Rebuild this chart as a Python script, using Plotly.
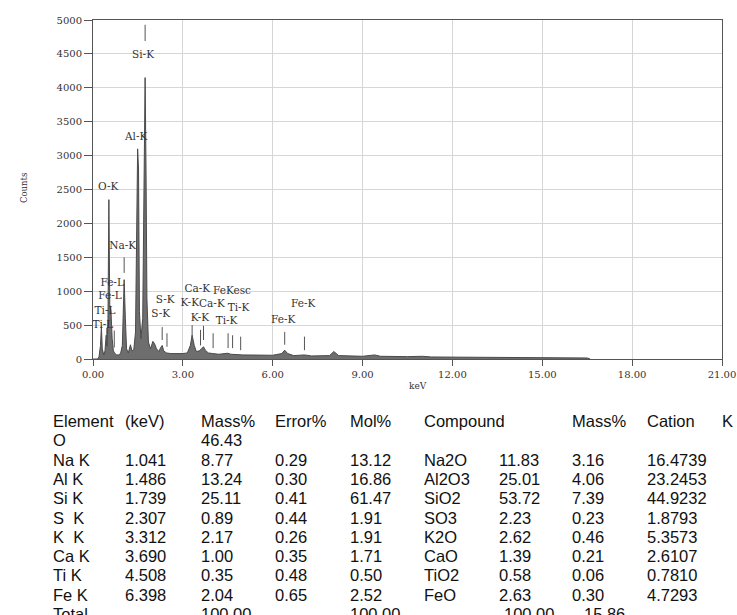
import plotly.graph_objects as go

# ---------------- spectrum data ----------------
energy_kev = [0.00, 0.15, 0.20, 0.25, 0.28, 0.31, 0.36, 0.40, 0.44, 0.47, 0.50, 0.53, 0.56,
              0.60, 0.64, 0.68, 0.72, 0.78, 0.85, 0.92, 0.98, 1.04, 1.08, 1.12, 1.18, 1.25,
              1.30, 1.36, 1.42, 1.46, 1.49, 1.52, 1.55, 1.60, 1.66, 1.70, 1.74, 1.77, 1.80,
              1.85, 1.92, 2.00, 2.06, 2.12, 2.20, 2.26, 2.31, 2.36, 2.45, 2.60, 2.80, 3.00,
              3.15, 3.25, 3.31, 3.38, 3.45, 3.55, 3.64, 3.69, 3.75, 3.85, 4.00, 4.20, 4.50,
              4.60, 5.00, 5.50, 6.00, 6.30, 6.40, 6.50, 6.70, 7.06, 7.30, 7.90, 8.04, 8.20,
              9.00, 9.40, 9.60, 10.50, 11.00, 11.30, 12.00, 13.00, 14.00, 15.00, 16.00,
              16.50, 16.60]
counts = [0, 0, 30, 200, 480, 150, 60, 120, 350, 200, 600, 2350, 800,
          700, 300, 120, 90, 60, 60, 80, 200, 1170, 600, 150, 90, 210,
          120, 130, 400, 2500, 3100, 2800, 700, 300, 600, 2400, 4150, 2800, 900,
          250, 150, 260, 220, 150, 110, 170, 200, 120, 90, 80, 75, 80,
          90, 200, 350, 200, 110, 120, 160, 180, 130, 90, 80, 70, 85,
          70, 60, 55, 55, 80, 130, 80, 50, 60, 45, 50, 110, 50,
          40, 60, 40, 35, 40, 30, 28, 25, 22, 20, 18,
          15, 0]

# element marker lines (energy, bottom, top in counts)
marker_kev = [0.46, 0.71, 1.04, 1.74, 2.31, 2.47, 3.31, 3.59, 3.69, 4.01, 4.51, 4.66, 4.93, 6.40, 7.06]
marker_lo = [180, 170, 1270, 4690, 280, 180, 310, 200, 280, 160, 160, 160, 130, 210, 130]
marker_hi = [460, 420, 1500, 4930, 470, 380, 500, 430, 490, 380, 380, 350, 330, 400, 330]

# peak labels
label_text = ["Ti-L", "Ti-L", "Fe-L", "Fe-L", "O-K", "Na-K", "Al-K", "Si-K", "S-K", "S-K",
              "Ca-K", "FeKesc", "K-K", "Ca-K", "Ti-K", "K-K", "Ti-K", "Fe-K", "Fe-K"]
label_kev = [0.40, 0.33, 0.57, 0.64, 0.51, 0.99, 1.44, 1.67, 2.41, 2.26,
             3.48, 4.64, 3.23, 3.97, 4.86, 3.57, 4.46, 7.02, 6.35]
label_counts = [700, 503, 921, 1120, 2525, 1661, 3265, 4482, 858, 661,
                1021, 1000, 823, 799, 750, 592, 552, 799, 577]

x_ticks = [0, 3, 6, 9, 12, 15, 18, 21]
y_ticks = [0, 500, 1000, 1500, 2000, 2500, 3000, 3500, 4000, 4500, 5000]

# ---------------- table data ----------------
header = ["Element", "(keV)", "Mass%", "Error%", "Mol%", "Compound", "", "Mass%", "Cation", "K"]
col_element = ["O", "Na K", "Al K", "Si K", "S\u00a0 K", "K\u00a0 K", "Ca K", "Ti K", "Fe K"]
col_kev = ["", "1.041", "1.486", "1.739", "2.307", "3.312", "3.690", "4.508", "6.398"]
col_mass = ["46.43", "8.77", "13.24", "25.11", "0.89", "2.17", "1.00", "0.35", "2.04"]
col_error = ["", "0.29", "0.30", "0.41", "0.44", "0.26", "0.35", "0.48", "0.65"]
col_mol = ["", "13.12", "16.86", "61.47", "1.91", "1.91", "1.71", "0.50", "2.52"]
col_compound = ["", "Na2O", "Al2O3", "SiO2", "SO3", "K2O", "CaO", "TiO2", "FeO"]
col_comp_mass = ["", "11.83", "25.01", "53.72", "2.23", "2.62", "1.39", "0.58", "2.63"]
col_cation = ["", "3.16", "4.06", "7.39", "0.23", "0.46", "0.21", "0.06", "0.30"]
col_k = ["", "16.4739", "23.2453", "44.9232", "1.8793", "5.3573", "2.6107", "0.7810", "4.7293"]
total_row = ["Total", "", "100.00", "", "100.00", "", "100.00", "15.86", "", ""]

# ---------------- figure ----------------
W, H = 737, 615
L, R, T, B = 93, 15, 20, 256
PW, PH = W - L - R, H - T - B


def px_x(px):
    return (px - L) / PW


def px_y(py):
    return (H - B - py) / PH


fig = go.Figure()

fig.add_trace(go.Scatter(
    x=energy_kev, y=counts, mode="lines", fill="tozeroy",
    line=dict(color="#4a4a4a", width=1), fillcolor="#6e6e6e",
    hoverinfo="skip", showlegend=False))

mx, my = [], []
for e, lo, hi in zip(marker_kev, marker_lo, marker_hi):
    mx += [e, e, None]
    my += [lo, hi, None]
fig.add_trace(go.Scatter(
    x=mx, y=my, mode="lines", line=dict(color="#555555", width=1),
    hoverinfo="skip", showlegend=False))

fig.add_trace(go.Scatter(
    x=label_kev, y=label_counts, mode="text", text=label_text,
    textposition="middle center",
    textfont=dict(family="DejaVu Serif", size=10.5, color="#333333"),
    hoverinfo="skip", showlegend=False, cliponaxis=False))

annotations = []
# axis titles
annotations.append(dict(x=px_x(418), y=px_y(393), xref="paper", yref="paper",
                        text="keV", showarrow=False,
                        font=dict(family="DejaVu Serif", size=9, color="#333333")))
annotations.append(dict(x=px_x(17), y=px_y(188), xref="paper", yref="paper",
                        text="Counts", showarrow=False, textangle=-90,
                        font=dict(family="DejaVu Serif", size=8.5, color="#333333")))

# table
col_x = [51, 123, 199, 273, 348, 422, 497, 570, 645, 720]
header_y = 421
row_step = 19.3
columns = [col_element, col_kev, col_mass, col_error, col_mol,
           col_compound, col_comp_mass, col_cation, col_k]
tfont = dict(family="Liberation Sans, Arial", size=16.5, color="#111111")

for ci, h in enumerate(header):
    if h:
        annotations.append(dict(x=px_x(col_x[ci]), y=px_y(header_y), xref="paper", yref="paper",
                                text=h, showarrow=False, xanchor="left", yanchor="middle",
                                font=tfont))
for ci, col in enumerate(columns):
    for ri, v in enumerate(col):
        if v:
            annotations.append(dict(x=px_x(col_x[ci]), y=px_y(header_y + (ri + 1) * row_step),
                                    xref="paper", yref="paper", text=v, showarrow=False,
                                    xanchor="left", yanchor="middle", font=tfont))
total_x = [51, 0, 199, 0, 348, 0, 502, 582, 0, 0]
for ci, v in enumerate(total_row):
    if v:
        annotations.append(dict(x=px_x(total_x[ci]), y=px_y(header_y + 10 * row_step),
                                xref="paper", yref="paper", text=v, showarrow=False,
                                xanchor="left", yanchor="middle", font=tfont))

fig.update_layout(
    width=W, height=H,
    margin=dict(l=L, r=R, t=T, b=B, pad=0, autoexpand=False),
    paper_bgcolor="white", plot_bgcolor="white",
    annotations=annotations,
    showlegend=False,
)
fig.update_xaxes(
    range=[0, 21], tickvals=x_ticks, tickformat=".2f", automargin=False,
    showgrid=True, gridcolor="#d6d6d6", gridwidth=1,
    showline=True, linecolor="#555555", linewidth=1, mirror=True,
    ticks="outside", ticklen=6, tickcolor="#555555",
    tickfont=dict(family="DejaVu Serif", size=10, color="#333333"),
    zeroline=False)
fig.update_yaxes(
    range=[0, 5000], tickvals=y_ticks, automargin=False,
    showgrid=True, gridcolor="#d6d6d6", gridwidth=1,
    showline=True, linecolor="#555555", linewidth=1, mirror=True,
    ticks="outside", ticklen=8, tickcolor="#555555",
    tickfont=dict(family="DejaVu Serif", size=10, color="#333333"),
    zeroline=False)

fig.write_html(
    "out.html",
    config={"displayModeBar": False},
    post_script="document.body.style.margin='0';document.body.style.overflow='hidden';",
)
